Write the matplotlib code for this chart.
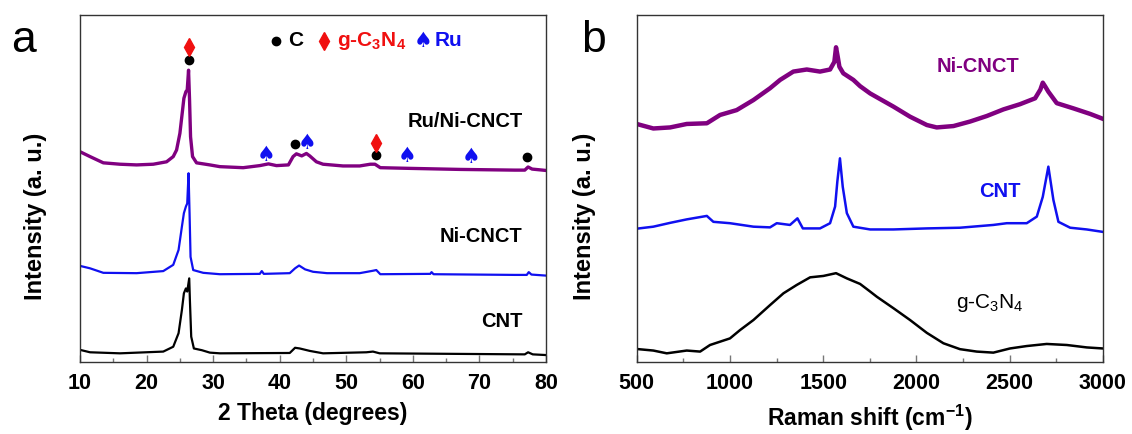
import matplotlib.pyplot as plt
from matplotlib.ticker import MultipleLocator

# XRD patterns (2 theta in degrees, stacked intensity in a.u.)
theta_ru = [10, 11.5, 13.5, 16, 18.5, 21, 23, 24, 24.5, 25.0, 25.4, 25.6, 25.9, 26.1,
            26.3, 26.45, 26.6, 26.9, 27.5, 29.5, 31, 34.5, 37.0, 38.3, 39.5, 41.3,
            42.0, 42.5, 43.3, 44.0, 44.5, 45.5, 46.5, 49.5, 52.0, 53.6, 54.3, 55.1,
            59.6, 67.1, 75.3, 76.8, 77.3, 77.9, 80]
xrd_ru = [60.6, 59.2, 57.4, 57.0, 56.8, 57.0, 57.7, 59.2, 61.1, 65.9, 72.6, 76.0, 77.9, 78.4,
          84.1, 75.5, 64.9, 59.2, 57.4, 56.8, 56.3, 56.0, 56.6, 57.1, 56.6, 56.8,
          59.2, 60.0, 59.4, 60.1, 59.4, 57.7, 57.0, 56.5, 56.5, 57.0, 57.0, 56.0,
          55.8, 55.5, 55.3, 55.3, 56.2, 55.6, 55.2]

theta_ni = [10, 11.5, 13.5, 18.5, 22.5, 24.0, 24.8, 25.3, 25.6, 25.9, 26.1, 26.3, 26.45,
            26.6, 27.0, 28.5, 31, 37.0, 37.3, 37.6, 41.5, 42.3, 42.9, 43.8, 45.0, 47.1,
            52.0, 54.0, 54.5, 55.1, 62.6, 62.8, 63.1, 75.3, 77.1, 77.4, 77.8, 80]
xrd_ni = [27.7, 27.0, 25.7, 25.6, 26.2, 28.0, 32.3, 39.0, 42.9, 44.8, 45.7, 54.4, 42.9,
          30.3, 26.5, 25.7, 25.3, 25.4, 26.2, 25.4, 25.6, 27.0, 27.8, 26.7, 26.0, 25.6,
          25.6, 26.3, 26.5, 25.3, 25.4, 25.9, 25.3, 25.1, 25.1, 25.9, 25.2, 24.9]

theta_cnt = [10, 11.5, 16, 22.5, 24.0, 24.8, 25.3, 25.6, 25.9, 26.1, 26.4, 26.5, 26.7,
             27.1, 28.3, 29.5, 31, 41.5, 42.3, 43.0, 44.5, 46.5, 53.0, 54.0, 55.0,
             76.8, 77.3, 78, 80]
xrd_cnt = [3.5, 2.8, 2.5, 3.0, 4.4, 8.3, 15.0, 19.8, 21.2, 20.3, 24.1, 17.9, 7.3,
           3.9, 3.4, 2.7, 2.5, 2.6, 4.1, 3.9, 3.2, 2.5, 2.8, 3.0, 2.5,
           2.2, 2.8, 2.2, 2.0]

# phase markers above the Ru/Ni-CNCT pattern
c_x = [26.3, 42.3, 54.5, 77.2]
c_y = [87.0, 62.8, 59.8, 59.2]
gcn_x = [26.3, 54.5]
gcn_y = [90.9, 63.0]
ru_x = [38.0, 44.05, 59.1, 68.8]
ru_y = [59.7, 63.0, 59.4, 59.0]

# Raman spectra (shift in cm-1, stacked intensity in a.u.)
shift_ni = [500, 589, 679, 768, 876, 947, 1036, 1126, 1215, 1269, 1340, 1412, 1483, 1537,
            1560, 1569, 1578, 1587, 1608, 1662, 1698, 1752, 1788, 1877, 1966, 2056, 2109,
            2199, 2288, 2378, 2467, 2556, 2637, 2665, 2678, 2690, 2708, 2753, 2842, 2932,
            2995]
raman_ni = [68.6, 67.3, 67.6, 68.6, 68.8, 71.2, 72.6, 75.5, 78.9, 81.3, 83.7, 84.3, 83.7, 84.3,
            86.5, 90.7, 88.0, 85.1, 83.2, 81.3, 79.5, 77.4, 76.3, 73.6, 70.7, 68.3, 67.6,
            68.0, 69.3, 70.9, 72.8, 74.3, 76.0, 78.5, 80.5, 79.5, 77.9, 74.6, 73.1, 71.5,
            70.2]

shift_cnt = [512, 589, 679, 768, 876, 911, 1000, 1126, 1215, 1251, 1322, 1362, 1391, 1483,
             1537, 1564, 1576, 1590, 1605, 1627, 1662, 1752, 1877, 2056, 2234, 2413, 2485,
             2592, 2646, 2678, 2708, 2735, 2762, 2825, 2914, 3000]
raman_cnt = [38.5, 39.0, 40.1, 41.1, 42.1, 40.4, 40.0, 39.0, 38.8, 40.0, 39.5, 41.4, 38.5, 38.5,
             40.0, 44.8, 52.0, 58.7, 50.5, 42.9, 39.0, 38.2, 38.2, 38.5, 38.7, 39.5, 40.0,
             40.0, 41.9, 47.6, 56.3, 46.7, 40.4, 38.7, 38.2, 37.5]

shift_gcn = [509, 589, 661, 768, 840, 893, 1000, 1054, 1126, 1215, 1287, 1358, 1430, 1501,
             1569, 1627, 1698, 1752, 1788, 1877, 1966, 2056, 2145, 2234, 2324, 2413, 2502,
             2592, 2699, 2807, 2914, 3000]
raman_gcn = [3.7, 3.3, 2.5, 3.3, 3.0, 4.9, 6.8, 9.2, 12.1, 16.4, 19.8, 22.2, 24.4, 24.8,
             25.6, 24.1, 22.5, 20.3, 18.8, 15.5, 12.1, 8.4, 5.4, 3.7, 3.0, 2.7, 3.9,
             4.6, 5.2, 4.9, 4.2, 3.9]

PURPLE = "#800080"
BLUE = "#1010F0"
RED = "#F01010"

plt.rcParams["font.family"] = ["Liberation Sans", "DejaVu Sans"]
plt.rcParams["mathtext.fontset"] = "custom"
plt.rcParams["mathtext.rm"] = "Liberation Sans"
plt.rcParams["mathtext.bf"] = "Liberation Sans:bold"


def style_axes(ax, major, minor, label_x):
    for side in ["left", "right", "top", "bottom"]:
        ax.spines[side].set_color("#333333")
        ax.spines[side].set_linewidth(1.0)
    ax.xaxis.set_major_locator(MultipleLocator(major))
    ax.xaxis.set_minor_locator(MultipleLocator(minor))
    ax.tick_params(axis="x", which="both", direction="in", color="#777777",
                   labelsize=15.5, pad=8)
    ax.tick_params(axis="x", which="major", length=5, width=1)
    ax.tick_params(axis="x", which="minor", length=3, width=1)
    ax.set_yticks([])
    for lab in ax.get_xticklabels():
        lab.set_fontweight("bold")
    ax.set_ylim(0, 100)
    ax.set_ylabel("Intensity (a. u.)", fontsize=17, fontweight="bold")
    ax.yaxis.set_label_coords(label_x, 0.42)


fig = plt.figure(figsize=(11.32, 4.34), dpi=100)

# ---- panel a: XRD
ax1 = fig.add_axes([0.0707, 0.1659, 0.4117, 0.7995])
ax1.plot(theta_ru, xrd_ru, color=PURPLE, lw=2.4)
ax1.plot(theta_ni, xrd_ni, color=BLUE, lw=1.6)
ax1.plot(theta_cnt, xrd_cnt, color="black", lw=1.6)
ax1.set_xlim(10, 80)
style_axes(ax1, 10, 5, -0.071)
ax1.set_xlabel("2 Theta (degrees)", fontsize=16.5, fontweight="bold", labelpad=6)

ax1.plot(c_x, c_y, "o", color="black", ms=6, ls="none")
ax1.plot(gcn_x, gcn_y, "d", color=RED, ms=9, ls="none")
for x, y in zip(ru_x, ru_y):
    ax1.text(x, y, "\u2660", color=BLUE, fontsize=15, family="DejaVu Sans",
             ha="center", va="center")

# phase key along the top
ax1.plot([39.5], [92.6], "o", color="black", ms=6)
ax1.text(41.2, 92.6, "C", fontsize=15, fontweight="bold", va="center")
ax1.plot([46.7], [92.6], "d", color=RED, ms=9)
ax1.text(48.6, 92.6, r"g-C$_{\mathbf{3}}$N$_{\mathbf{4}}$", color=RED, fontsize=15,
         fontweight="bold", va="center")
ax1.text(61.6, 92.6, "\u2660", color=BLUE, fontsize=15, family="DejaVu Sans",
         ha="center", va="center")
ax1.text(63.2, 92.6, "Ru", color=BLUE, fontsize=15, fontweight="bold", va="center")

ax1.text(76.5, 69.2, "Ru/Ni-CNCT", fontsize=14.5, fontweight="bold", ha="right", va="center")
ax1.text(76.5, 36.3, "Ni-CNCT", fontsize=14.5, fontweight="bold", ha="right", va="center")
ax1.text(76.5, 11.8, "CNT", fontsize=14.5, fontweight="bold", ha="right", va="center")

# ---- panel b: Raman
ax2 = fig.add_axes([0.5625, 0.1659, 0.4117, 0.7995])
ax2.plot(shift_ni, raman_ni, color=PURPLE, lw=3.2)
ax2.plot(shift_cnt, raman_cnt, color=BLUE, lw=1.8)
ax2.plot(shift_gcn, raman_gcn, color="black", lw=1.8)
ax2.set_xlim(500, 3000)
style_axes(ax2, 500, 250, -0.087)
ax2.set_xlabel(r"Raman shift (cm$^{\mathbf{-1}}$)", fontsize=16.5, fontweight="bold", labelpad=6)

ax2.text(2331, 85.1, "Ni-CNCT", color=PURPLE, fontsize=14.5, fontweight="bold",
         ha="center", va="center")
ax2.text(2449, 49.0, "CNT", color=BLUE, fontsize=14.5, fontweight="bold",
         ha="center", va="center")
ax2.text(2396, 17.0, r"g-C$_{\mathrm{3}}$N$_{\mathrm{4}}$", color="black", fontsize=15,
         ha="center", va="center")

fig.text(0.010, 0.880, "a", fontsize=32)
fig.text(0.513, 0.880, "b", fontsize=32)

fig.savefig("out.png", dpi=100)
plt.close(fig)
